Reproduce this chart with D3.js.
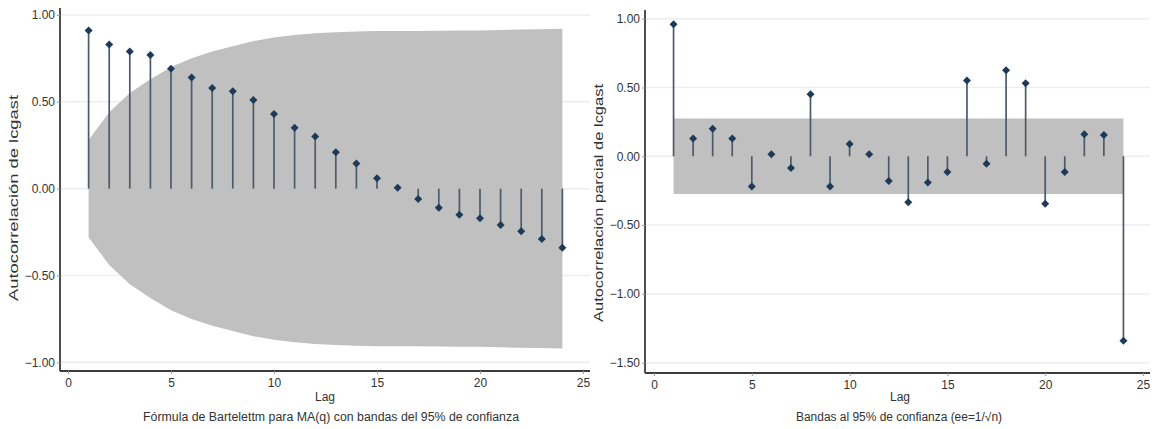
<!DOCTYPE html>
<html>
<head>
<meta charset="utf-8">
<script src="https://cdn.jsdelivr.net/npm/d3@7"></script>
<style>
  body { margin: 0; background: #fff; }
  svg { display: block; font-family: "Liberation Sans", Arial, sans-serif; }
</style>
</head>
<body>
<script>
// lags 1..24
var lags = d3.range(1, 25);

// ACF of lcgast (left panel)
var acfValues = [0.91, 0.83, 0.79, 0.77, 0.69, 0.64, 0.58, 0.56, 0.51, 0.43, 0.35, 0.30,
                 0.21, 0.145, 0.06, 0.005, -0.06, -0.11, -0.15, -0.17, -0.21, -0.245, -0.29, -0.34];
// Bartlett band half-width
var acfBand = [0.28, 0.44, 0.55, 0.63, 0.70, 0.75, 0.79, 0.82, 0.85, 0.87, 0.885, 0.895,
               0.90, 0.905, 0.907, 0.908, 0.908, 0.909, 0.91, 0.911, 0.913, 0.916, 0.918, 0.92];

// PACF of lcgast (right panel)
var pacfValues = [0.96, 0.13, 0.20, 0.13, -0.22, 0.015, -0.085, 0.45, -0.22, 0.09, 0.015, -0.18,
                  -0.335, -0.19, -0.115, 0.55, -0.055, 0.625, 0.53, -0.345, -0.115, 0.16, 0.155, -1.34];
var pacfBand = [0.275, 0.275, 0.275, 0.275, 0.275, 0.275, 0.275, 0.275, 0.275, 0.275, 0.275, 0.275,
                0.275, 0.275, 0.275, 0.275, 0.275, 0.275, 0.275, 0.275, 0.275, 0.275, 0.275, 0.275];

var xTicks = [0, 5, 10, 15, 20, 25];
var acfTicks = [1, 0.5, 0, -0.5, -1];
var pacfTicks = [1, 0.5, 0, -0.5, -1, -1.5];

var svg = d3.select("body").append("svg")
    .attr("width", 1158)
    .attr("height", 429);

function drawPanel(opt) {
  var g = svg.append("g");

  var x = d3.scaleLinear().domain([0, 25]).range([opt.x0, opt.x25]);
  var y = d3.scaleLinear().domain(opt.yDomain).range([opt.bottom, opt.top]);

  // grid lines
  g.selectAll(".grid")
      .data(opt.yTicks)
    .enter().append("line")
      .attr("x1", opt.left).attr("x2", opt.right)
      .attr("y1", function(d) { return y(d); })
      .attr("y2", function(d) { return y(d); })
      .attr("stroke", "#eeeeee")
      .attr("stroke-width", 1.5);

  // confidence band
  var rows = lags.map(function(l, i) { return {lag: l, v: opt.values[i], b: opt.band[i]}; });
  var area = d3.area()
      .x(function(d) { return x(d.lag); })
      .y0(function(d) { return y(-d.b); })
      .y1(function(d) { return y(d.b); });
  g.append("path")
      .datum(rows)
      .attr("d", area)
      .attr("fill", "#c0c0c0");

  // stems
  g.selectAll(".stem")
      .data(rows)
    .enter().append("line")
      .attr("x1", function(d) { return x(d.lag); })
      .attr("x2", function(d) { return x(d.lag); })
      .attr("y1", y(0))
      .attr("y2", function(d) { return y(d.v); })
      .attr("stroke", "#4b5b6c")
      .attr("stroke-width", 1.7);

  // diamond markers
  var diamond = d3.symbol().type(d3.symbolSquare).size(32);
  g.selectAll(".pt")
      .data(rows)
    .enter().append("path")
      .attr("d", diamond)
      .attr("transform", function(d) {
        return "translate(" + x(d.lag) + "," + y(d.v) + ") rotate(45)";
      })
      .attr("fill", "#1d3a58");

  // axes
  var yAxis = d3.axisLeft(y)
      .tickValues(opt.yTicks)
      .tickFormat(d3.format(".2f"))
      .tickSize(3)
      .tickPadding(2);
  var ya = g.append("g")
      .attr("transform", "translate(" + opt.left + ",0)")
      .call(yAxis);
  ya.select(".domain").attr("d", "M0," + opt.top + "V" + opt.bottom);

  var xAxis = d3.axisBottom(x)
      .tickValues(xTicks)
      .tickSize(3)
      .tickPadding(4);
  var xa = g.append("g")
      .attr("transform", "translate(0," + opt.bottom + ")")
      .call(xAxis);
  xa.select(".domain").attr("d", "M" + opt.left + ",0H" + opt.right);

  g.selectAll(".domain").attr("stroke", "#3c3c3c").attr("stroke-width", 1.8);
  g.selectAll(".tick line").attr("stroke", "#999");
  g.selectAll(".tick text")
      .attr("fill", "#333")
      .style("font-size", "12px")
      .style("font-family", "Liberation Sans, Arial, sans-serif");

  // titles (the labels in the picture are stretched, so fix their length)
  g.append("text")
      .attr("transform", "translate(" + opt.yLabelX + "," + opt.yLabelY + ") rotate(-90)")
      .attr("text-anchor", "middle")
      .attr("fill", "#333")
      .attr("textLength", opt.yLabelLen)
      .attr("lengthAdjust", "spacingAndGlyphs")
      .style("font-size", "13px")
      .text(opt.yLabel);

  g.append("text")
      .attr("x", opt.lagX)
      .attr("y", 401)
      .attr("text-anchor", "middle")
      .attr("fill", "#333")
      .style("font-size", "12px")
      .text("Lag");

  g.append("text")
      .attr("x", opt.noteX)
      .attr("y", 421)
      .attr("text-anchor", "middle")
      .attr("fill", "#333")
      .attr("textLength", opt.noteLen)
      .attr("lengthAdjust", "spacingAndGlyphs")
      .style("font-size", "12px")
      .text(opt.note);
}

drawPanel({
  values: acfValues, band: acfBand, yTicks: acfTicks,
  yDomain: [-1.05, 1.04],
  left: 60, right: 590, top: 8, bottom: 371,
  x0: 68, x25: 583,
  yLabelX: 18, yLabelY: 198, yLabelLen: 206,
  lagX: 325,
  noteX: 331, noteLen: 376,
  yLabel: "Autocorrelación  de lcgast",
  note: "Fórmula de Bartelettm para MA(q) con bandas del 95% de confianza"
});

drawPanel({
  values: pacfValues, band: pacfBand, yTicks: pacfTicks,
  yDomain: [-1.575, 1.063],
  left: 645, right: 1150, top: 10, bottom: 373,
  x0: 654, x25: 1143,
  yLabelX: 603, yLabelY: 203, yLabelLen: 238,
  lagX: 900,
  noteX: 899, noteLen: 206,
  yLabel: "Autocorrelación  parcial de lcgast",
  note: "Bandas al 95% de confianza (ee=1/\u221An)"
});
</script>
</body>
</html>
